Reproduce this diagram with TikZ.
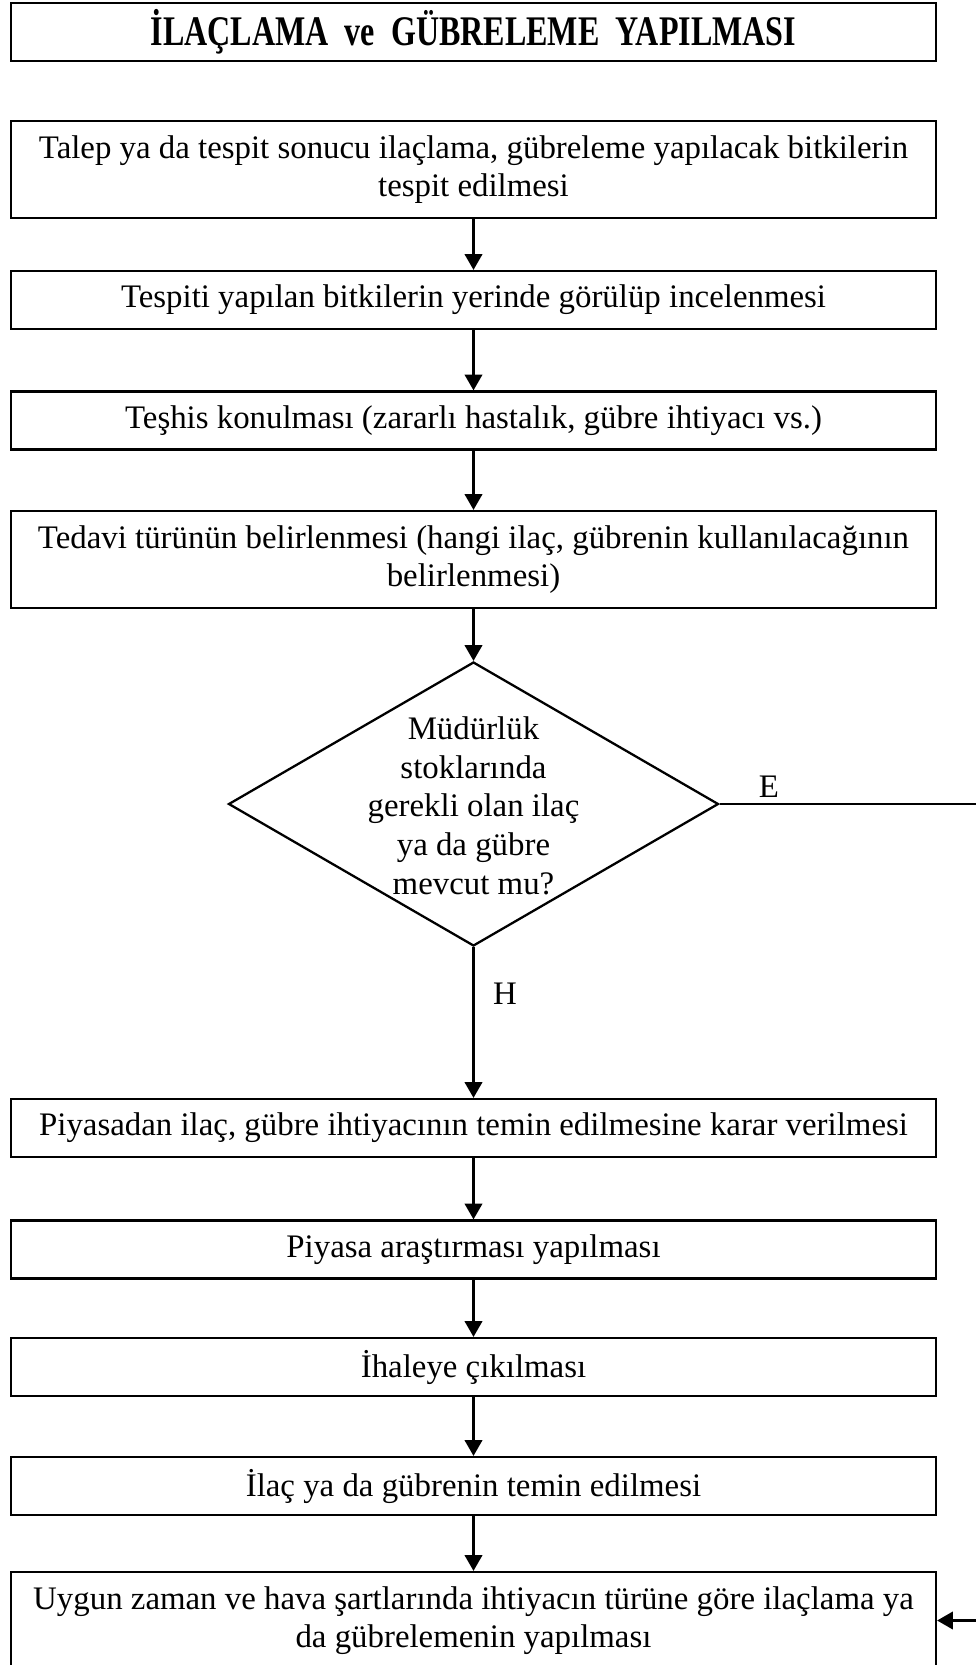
\documentclass[tikz,border=0pt]{standalone}
\usepackage{fontspec}
\setmainfont{Liberation Serif}
\usetikzlibrary{
    arrows.meta,
    positioning,
    shapes.geometric
}

\tikzset{
    stepbox/.style={draw, line width=1.3pt, minimum width=18.5cm,
        minimum height=1.16cm, align=center, inner sep=0pt},
    tallbox/.style={stepbox, minimum height=1.94cm},
    decision/.style={draw, diamond, line width=1.3pt, minimum width=9.8cm,
        minimum height=5.68cm, inner sep=0pt},
    flow/.style={line width=1.3pt, -{Triangle[width=10pt, length=9pt]}}
}

\begin{document}
\begin{tikzpicture}[font=\fontsize{18.7}{22}\selectfont]
    \useasboundingbox (0,0) rectangle (19.5,-33.3);
    % title
    \node[stepbox, line width=1.5pt, font=\fontsize{24}{28}\selectfont\bfseries]
        (title) at (9.47,-0.64)
        {\scalebox{0.76}[1]{İLAÇLAMA\ \ ve\ \ GÜBRELEME\ \ YAPILMASI}};
    % first steps
    \node[tallbox] (talep) at (9.47,-3.39)
        {Talep ya da tespit sonucu ilaçlama, gübreleme yapılacak bitkilerin\\tespit edilmesi};
    \node[stepbox] (yerinde) at (9.47,-6.0)
        {Tespiti yapılan bitkilerin yerinde görülüp incelenmesi};
    \node[stepbox] (teshis) at (9.47,-8.41)
        {Teşhis konulması (zararlı hastalık, gübre ihtiyacı vs.)};
    \node[tallbox] (tedavi) at (9.47,-11.19)
        {Tedavi türünün belirlenmesi (hangi ilaç, gübrenin kullanılacağının\\belirlenmesi)};
    % stock check
    \node[decision] (stok) at (9.47,-16.08) {};
    \node[align=center, font=\fontsize{18.7}{22}\selectfont] (stoktext)
        at ([yshift=-0.03cm]stok.center)
        {Müdürlük\\stoklarında\\gerekli olan ilaç\\ya da gübre\\mevcut mu?};
    % purchase from market
    \node[stepbox] (piyasadan) at (9.47,-22.56)
        {Piyasadan ilaç, gübre ihtiyacının temin edilmesine karar verilmesi};
    \node[stepbox] (arastirma) at (9.47,-24.99) {Piyasa araştırması yapılması};
    \node[stepbox] (ihale) at (9.47,-27.34) {İhaleye çıkılması};
    \node[stepbox] (temin) at (9.47,-29.72) {İlaç ya da gübrenin temin edilmesi};
    % application
    \node[tallbox] (uygulama) at (9.47,-32.41)
        {Uygun zaman ve hava şartlarında ihtiyacın türüne göre ilaçlama ya\\da gübrelemenin yapılması};
    \coordinate (donus) at (20.2,-16.08);
    % connectors
    \draw[flow] (talep) -- (yerinde);
    \draw[flow] (yerinde) -- (teshis);
    \draw[flow] (teshis) -- (tedavi);
    \draw[flow] (tedavi) -- (stok.north);
    \draw[flow] (stok.south) -- node[pos=0.31, right=0.25cm] (hayir) {H} (piyasadan);
    \draw[flow] (piyasadan) -- (arastirma);
    \draw[flow] (arastirma) -- (ihale);
    \draw[flow] (ihale) -- (temin);
    \draw[flow] (temin) -- (uygulama);
    \draw[flow] (stok.east) -- node[pos=0.17, above] (evet) {E} (donus) |- (uygulama.east);
\end{tikzpicture}
\end{document}
